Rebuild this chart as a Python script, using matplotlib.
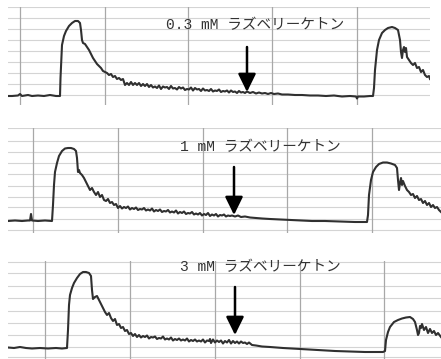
import matplotlib
matplotlib.use("Agg")
import matplotlib.pyplot as plt

W, H = 441, 359

# ---------------- data (time in chart units, signal above panel bottom) ----------------
labels = ["0.3 mM ラズベリーケトン", "1 mM ラズベリーケトン", "3 mM ラズベリーケトン"]

t1 = [8, 12, 18, 20, 22, 28, 32, 38, 44, 50, 56, 60,
      60.5, 62, 64, 66, 69, 72, 75, 78, 80, 81, 82, 83, 85, 87, 89, 91, 93, 95, 97, 99,
      101, 103, 105, 107, 109, 111, 113, 115, 117, 119, 121, 123, 125, 127, 129, 131, 133,
      135, 137, 139, 141, 143, 145, 147, 149, 151, 153, 155, 157, 159, 161, 163, 165, 167,
      169, 171, 173, 175, 177, 179, 181, 183, 185, 187, 189, 191, 193, 195, 197, 199, 201,
      203, 205, 207, 209, 211, 213, 215, 217, 219, 221, 223, 225, 227, 229, 231, 233, 235,
      237, 239, 241, 243, 245, 247, 250, 253, 256, 259, 262, 265, 268, 271, 274, 278, 282,
      288, 295, 302, 310, 318, 326, 334, 342, 350, 356, 357, 358, 364, 370, 373,
      374, 375, 377, 379, 382, 385, 388, 392, 395, 398, 400, 401, 402, 403, 404, 405, 406,
      407, 409, 411, 413, 415, 417, 419, 421, 423, 425, 427, 429, 430]
v1 = [9, 9, 9.5, 11, 9, 10, 9, 9.5, 9, 10, 9, 9,
      27, 60, 69, 74, 79, 82, 84, 84, 82, 75, 65, 62, 61, 58, 55, 51, 47, 44, 41, 39,
      37, 34, 33, 32, 30, 31, 28, 29, 26, 27, 25, 26, 20, 22, 20, 23, 20,
      22, 20, 22, 19, 21, 19, 21, 18,
      20, 17.5, 18.5, 17, 19.5, 16, 18.5, 17.5, 18, 16,
      19, 16.5, 17, 15.5, 18, 16.5, 17.5, 15, 16, 15.5,
      17.5, 14.5, 17, 15.5, 16, 14, 16.5, 14.5, 15, 14,
      16, 13.5, 14.5, 14, 15.5, 13, 14, 13.5, 14.5, 12.5,
      14.5, 13, 13.5, 12, 14, 12.5, 13, 12, 13.5,
      12, 13, 11.5, 12.5, 11.5, 12, 11, 12, 11, 11.5, 10.5,
      10.5, 10, 10, 9.5, 9.5, 9, 9.5, 8.5, 9, 8.5, 6.5, 8.5, 8.5, 9, 9,
      17, 35, 55, 65, 72, 75, 77, 78, 77, 75, 65, 53, 47, 55, 58, 53, 57,
      48, 45, 42, 40, 42, 37, 38, 33, 35, 30, 28, 29, 26]

t2 = [8, 15, 22, 28, 30, 31, 32, 38, 45, 52,
      53, 54, 55, 57, 59, 62, 65, 68, 71, 74, 76, 77, 78, 79, 80, 82, 84, 86, 88, 90, 92,
      94, 96, 98, 100, 102, 104, 106, 108, 110, 112, 114, 116, 118, 120, 122, 124, 126,
      128, 130, 132, 134, 136, 138, 140, 142, 144, 146, 148, 150, 152, 154, 156, 158, 160,
      162, 164, 166, 168, 170, 172, 174, 176, 178, 180, 182, 184, 186, 188, 190, 192, 194,
      196, 198, 200, 202, 204, 206, 208, 210, 212, 214, 216, 218, 220, 222, 224, 226, 228,
      230, 232, 235, 238, 241, 245, 250, 256, 262, 270, 280, 290, 300, 312, 325, 340, 355,
      367, 368, 369, 371, 373, 376, 379, 383, 387, 391, 395, 397, 398, 399, 400, 401, 402,
      403, 405, 407, 409, 411, 413, 415, 417, 419, 421, 423, 425, 427, 429, 431, 433, 435,
      437, 439, 441]
v2 = [12, 12.5, 12, 12.5, 12.5, 19, 12.5, 12, 12.5, 12,
      28, 48, 61, 70, 77, 82, 84.5, 85, 85, 84, 82, 75, 61, 63, 60, 58, 55, 51, 47, 43, 45,
      41, 38, 41, 36, 38, 33, 32, 34, 30, 31, 28, 29, 25, 27,
      24.5, 26, 25, 26.5, 23.5, 25, 24, 25.5, 23, 24,
      23.5, 25, 22.5, 23.5, 22.5, 24.5, 21.5, 23, 22, 23.5,
      21, 22, 21.5, 23, 20.5, 21.5, 20.5, 22.5, 19.5, 21,
      20, 21.5, 19, 20, 19.5, 21, 18.5, 19.5, 18.5, 20,
      17.5, 19, 18, 20, 17, 18.5, 17.5, 19, 16.5, 18,
      17.5, 18.5, 16.5, 17.5, 17, 17.5,
      16.5, 17.5, 16, 16.5, 15.5, 15, 14.5, 14, 13.5, 13, 12.5, 12, 12, 11.5, 11,
      11, 18, 38, 53, 61, 66, 69, 70.5, 70.5, 69.5, 68, 65, 53, 43, 50, 55, 48,
      52, 47, 43, 41, 38, 39, 35, 37, 33, 34, 30, 32, 28, 30, 26, 28, 25,
      26, 23, 21]

t3 = [8, 14, 20, 26, 32, 40, 48, 56, 62, 67,
      68, 69, 70, 72, 74, 77, 80, 83, 86, 89, 91, 92, 93, 95, 97, 99, 101, 103, 105, 107,
      109, 111, 113, 115, 117, 119, 121, 123, 125, 127, 129, 131, 133, 135, 137, 139, 141,
      143, 145, 147, 149, 151, 153, 155, 157, 159, 161, 163, 165, 167, 169, 171, 173, 175,
      177, 179, 181, 183, 185, 187, 189, 191, 193, 195, 197, 199, 201, 203, 205, 207, 209,
      210, 211, 213, 215, 217, 219, 221, 223, 225, 227, 229, 231, 233, 235, 237, 239, 241,
      243, 245, 247, 249, 252, 256, 262, 270, 283, 300, 317, 335, 350, 365, 378, 383,
      385, 386, 388, 390, 394, 398, 402, 406, 410, 413, 415, 417, 418, 419, 420, 421, 422,
      424, 426, 428, 430, 432, 434, 436, 438, 441]
v3 = [11.5, 11, 12, 11, 10.5, 11, 10.5, 11, 10.5, 11,
      29, 54, 64, 71, 76, 81, 85, 87, 87, 86, 83, 69, 60, 62, 63, 59, 55, 51, 47, 44,
      46, 41, 38, 40, 34, 35, 31, 32, 28, 29, 25, 26, 23, 25, 22, 24,
      21.5, 23, 22, 23.5, 20.5, 22, 21.5, 22.5, 20, 21,
      20.5, 22.5, 19.5, 20.5, 19.5, 21.5, 18.5, 20, 19, 20.5,
      18.5, 19.5, 18.5, 20.5, 17.5, 19, 18, 19.5, 17.5, 18.5,
      17.5, 19.5, 16.5, 18.5, 18, 20, 16, 19.5, 16.5, 18.5,
      17, 18.5, 15.5, 18, 16.5, 19, 15.5, 18, 16, 17.5,
      15.5, 17.5, 16, 16.5, 15, 16.5,
      14, 13.5, 12.5, 12, 11, 10, 9, 8, 7.5, 7, 7, 7,
      8, 19, 27, 32, 37, 39, 40.5, 41.5, 42, 40, 37, 29, 24, 26, 33, 31, 35,
      29, 32, 26, 30, 26, 28, 24, 26, 22]

times = [t1, t2, t3]
signals = [v1, v2, v3]

# chart-paper grid (time of major divisions, signal of minor divisions)
vgrid = [[20, 105, 188, 272, 357], [33, 118, 203, 287, 372], [45, 130, 215, 300, 384]]
hgrid = [[98, 87, 76, 65, 54, 43, 32, 21, 10],
         [105, 92, 81, 70, 59, 47, 36, 26, 14, 3],
         [97, 86, 73, 61, 48, 36, 24, 12, 2]]

# stimulus arrows: (time, signal at tail, signal at tip) and label anchors
arrow_t = [247, 234, 235]
arrow_tail = [58, 66, 72]
arrow_tip = [13, 18, 24]
label_t = [166, 180, 180]
label_v = [80, 86, 92]

# panel placement in pixels: (left, right, top, bottom)
panels = [(8, 430, 7, 105), (8, 441, 128, 233), (8, 441, 261, 359)]

fig = plt.figure(figsize=(W / 100, H / 100), dpi=100)
fig.patch.set_facecolor("white")

for i, (l, r, top, bot) in enumerate(panels):
    ax = fig.add_axes([l / W, 1 - bot / H, (r - l) / W, (bot - top) / H])
    ax.set_xlim(l, r)
    ax.set_ylim(0, bot - top)
    for s in ax.spines.values():
        s.set_visible(False)
    ax.set_xticks([])
    ax.set_yticks([])
    ax.set_facecolor("white")
    for hv in hgrid[i]:
        ax.axhline(hv, color="#d4d4d4", lw=0.8, zorder=1)
    for vt in vgrid[i]:
        ax.axvline(vt, color="#a8a8a8", lw=0.9, zorder=1)
    ax.plot(times[i], signals[i], color="#303030", lw=1.5, zorder=3,
            solid_joinstyle="round")
    ax.annotate("", xy=(arrow_t[i], arrow_tip[i]), xytext=(arrow_t[i], arrow_tail[i]),
                arrowprops=dict(arrowstyle="-|>,head_length=0.55,head_width=0.27",
                                mutation_scale=20, color="black", lw=1.8,
                                shrinkA=0, shrinkB=0), zorder=4)
    ax.text(label_t[i], label_v[i], labels[i], ha="left", va="center",
            fontsize=10.5, color="#333333",
            family=["Liberation Mono", "Noto Sans CJK JP"], zorder=5)

fig.savefig("out.png", dpi=100, facecolor="white")
